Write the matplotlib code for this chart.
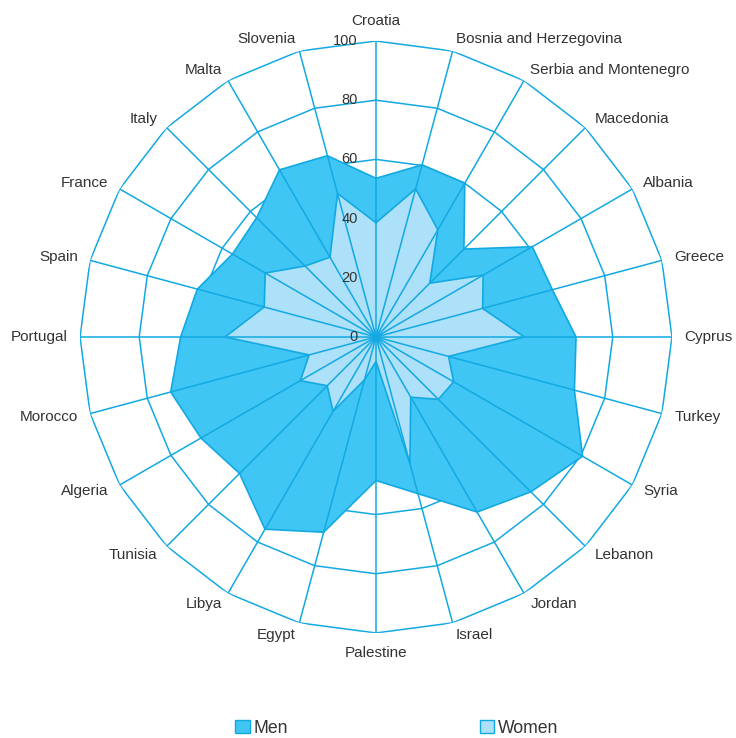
import matplotlib
matplotlib.use("Agg")
import matplotlib.pyplot as plt
import numpy as np
from matplotlib.patches import Patch

plt.rcParams['font.family'] = ['Liberation Sans', 'DejaVu Sans']

countries = ['Croatia', 'Bosnia and Herzegovina', 'Serbia and Montenegro', 'Macedonia',
             'Albania', 'Greece', 'Cyprus', 'Turkey', 'Syria', 'Lebanon', 'Jordan',
             'Israel', 'Palestine', 'Egypt', 'Libya', 'Tunisia', 'Algeria', 'Morocco',
             'Portugal', 'Spain', 'France', 'Italy', 'Malta', 'Slovenia']
men = [53.6, 60.2, 60.0, 42.0, 61.0, 61.7, 67.6, 69.4, 80.6, 74.0, 68.3, 54.8,
       48.5, 68.3, 75.0, 65.2, 68.3, 71.8, 66.0, 62.5, 56.0, 57.0, 65.2, 63.4]
women = [38.6, 51.8, 41.8, 25.7, 41.8, 37.3, 50.1, 25.4, 30.3, 29.8, 23.5, 44.3,
         8.3, 15.0, 29.0, 23.3, 29.5, 23.4, 51.0, 39.1, 43.2, 33.9, 31.1, 50.2]
rings = [20, 40, 60, 80, 100]
ring_labels = [0, 20, 40, 60, 80, 100]

grid_c = '#12a9e3'
men_c = '#40c6f4'
women_c = '#ade0f9'
text_c = '#333333'

n = len(countries)
theta = np.arange(n) * 2 * np.pi / n
theta_c = np.append(theta, theta[0])

fig = plt.figure(figsize=(7.36, 7.38), dpi=100)
ax = fig.add_axes([0.1087, 0.1423, 0.8043, 0.8022], projection='polar')
ax.set_theta_zero_location('N')
ax.set_theta_direction(-1)
ax.set_ylim(0, 100)
ax.grid(False)
ax.spines['polar'].set_visible(False)
ax.set_xticks([])
ax.set_yticks([])

# polygon rings (under the series)
for r in rings:
    ax.plot(theta_c, [r] * (n + 1), color=grid_c, lw=1.1, zorder=1)

# series
ax.fill(theta_c, np.append(men, men[0]), color=men_c, zorder=2, lw=0)
ax.plot(theta_c, np.append(men, men[0]), color=grid_c, lw=1.2, zorder=3)
ax.fill(theta_c, np.append(women, women[0]), color=women_c, zorder=3, lw=0)
ax.plot(theta_c, np.append(women, women[0]), color=grid_c, lw=1.2, zorder=4)

# spokes on top
for t in theta:
    ax.plot([t, t], [0, 100], color=grid_c, lw=1.1, zorder=5)

# category labels
for t, name in zip(theta, countries):
    deg = np.degrees(t)
    if deg == 0:
        ha, va = 'center', 'bottom'
    elif deg == 180:
        ha, va = 'center', 'top'
    elif deg < 180:
        ha, va = 'left', 'center'
    else:
        ha, va = 'right', 'center'
    ax.text(t, 104.3, name, ha=ha, va=va, fontsize=11, color=text_c, zorder=6)

# radial labels
for v in ring_labels:
    ax.annotate(str(v), xy=(0, v), xytext=(-13, 0), textcoords='offset points',
                ha='right', va='center', fontsize=10.5, color=text_c, zorder=6,
                annotation_clip=False)

# legend
handles = [Patch(facecolor=men_c, edgecolor=grid_c, label='Men'),
           Patch(facecolor=women_c, edgecolor=grid_c, label='Women')]
fig.legend(handles=handles, loc='center', bbox_to_anchor=(0.539, 0.0135), ncol=2,
           frameon=False, fontsize=12.7, handlelength=0.8, handleheight=0.8,
           handletextpad=0.2, columnspacing=10.9, labelcolor=text_c)

fig.savefig('out.png', dpi=100)
